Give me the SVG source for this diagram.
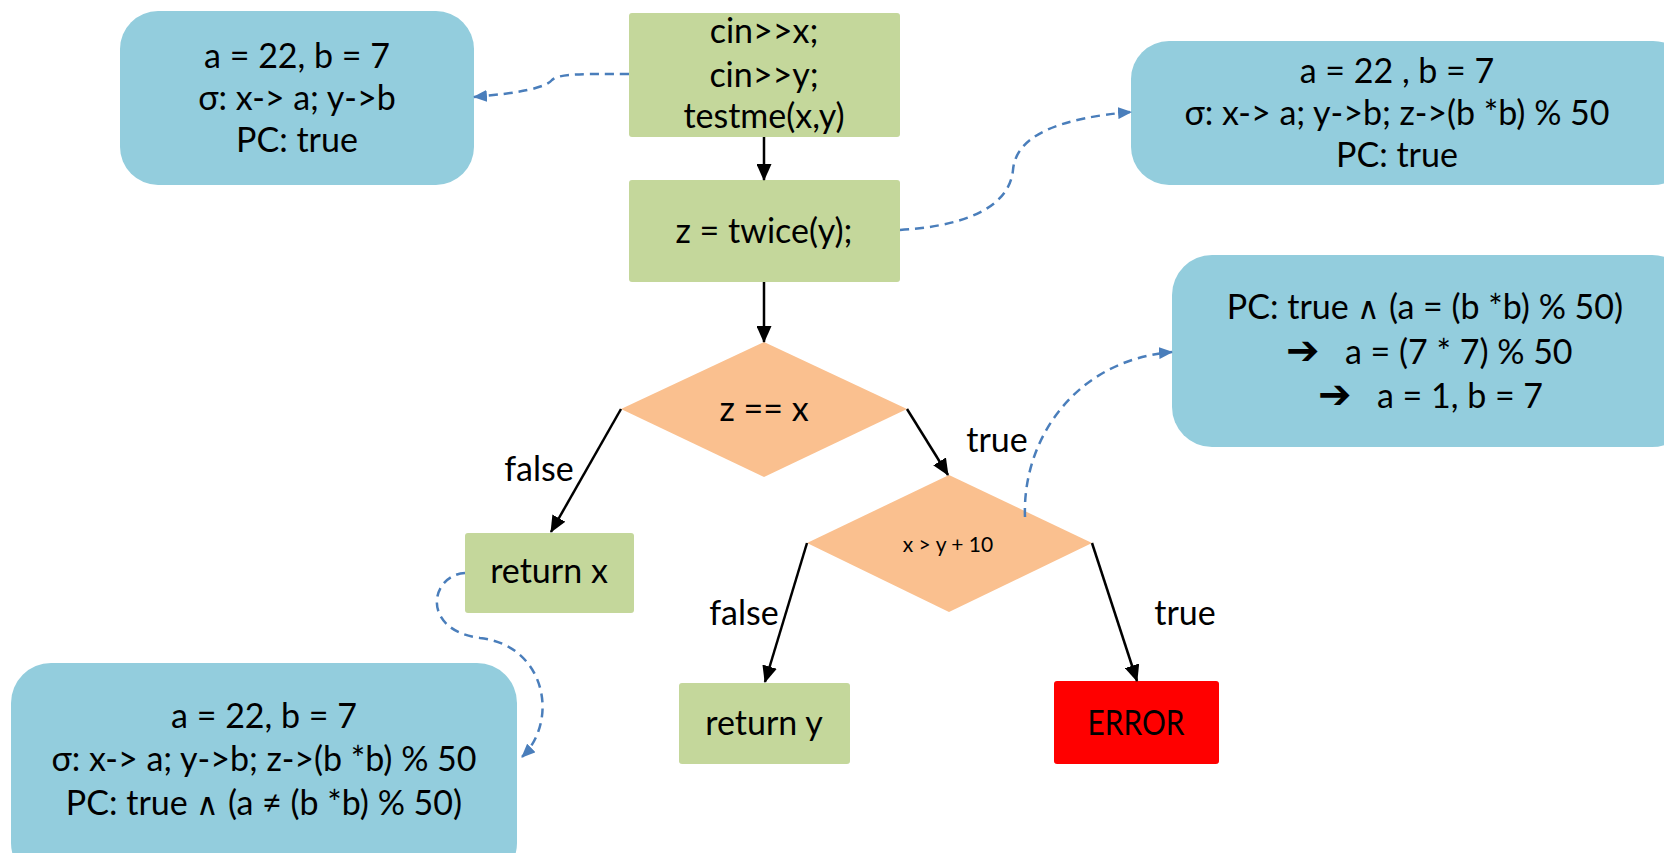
<svg xmlns="http://www.w3.org/2000/svg" width="1664" height="853" viewBox="0 0 1664 853">
  <style>
    .state { fill: #93CDDD; }
    .stmt { fill: #C4D79B; }
    .cond { fill: #FAC08F; }
    .err { fill: #FF0000; }
    text { font-family: Lato, "DejaVu Sans", sans-serif; font-size: 34px; fill: #000; text-anchor: middle; }
    .small { font-size: 21px; }
    .sym { font-family: "DejaVu Sans", sans-serif; font-weight: bold; font-size: 40px; }
    .op { font-family: "DejaVu Sans", sans-serif; font-weight: 200; font-size: 31px; }
    .flow { fill: none; stroke: #000; stroke-width: 2.5; marker-end: url(#blackHead); }
    .note { fill: none; stroke: #4A7EBB; stroke-width: 2.5; stroke-dasharray: 9 6; marker-end: url(#blueHead); }
  </style>
  <defs>
    <marker id="blackHead" viewBox="0 0 17 15" refX="16" refY="7.5" markerWidth="17" markerHeight="15" markerUnits="userSpaceOnUse" orient="auto">
      <path d="M0,0 L17,7.5 L0,15 Z" fill="#000"/>
    </marker>
    <marker id="blueHead" viewBox="0 0 14 12" refX="13" refY="6" markerWidth="14" markerHeight="12" markerUnits="userSpaceOnUse" orient="auto">
      <path d="M0,0 L14,6 L0,12 Z" fill="#4A7EBB"/>
    </marker>
  </defs>

  <!-- symbolic states -->
  <g id="state-initial">
    <rect class="state" x="120" y="11" width="354" height="174" rx="38"/>
    <text x="297" y="68">a = 22, b = 7</text>
    <text x="297" y="110">σ: x-&gt; a; y-&gt;b</text>
    <text x="297" y="152">PC: true</text>
  </g>
  <g id="state-after-twice">
    <rect class="state" x="1131" y="41" width="560" height="144" rx="38"/>
    <text x="1397" y="83">a = 22 , b = 7</text>
    <text x="1397" y="125">σ: x-&gt; a; y-&gt;b; z-&gt;(b *b) % 50</text>
    <text x="1397" y="167">PC: true</text>
  </g>
  <g id="state-true-branch">
    <rect class="state" x="1172" y="255" width="520" height="192" rx="40"/>
    <text x="1425" y="319">PC: true <tspan class="op">∧</tspan> (a = (b *b) % 50)</text>
    <text x="1286" y="364" style="text-anchor:start"><tspan class="sym">➔</tspan><tspan x="1345">a = (7 * 7) % 50</tspan></text>
    <text x="1318" y="408" style="text-anchor:start"><tspan class="sym">➔</tspan><tspan x="1377">a = 1, b = 7</tspan></text>
  </g>
  <g id="state-false-branch">
    <rect class="state" x="11" y="663" width="506" height="220" rx="40"/>
    <text x="264" y="728">a = 22, b = 7</text>
    <text x="264" y="771">σ: x-&gt; a; y-&gt;b; z-&gt;(b *b) % 50</text>
    <text x="264" y="815">PC: true <tspan class="op">∧</tspan> (a ≠ (b *b) % 50)</text>
  </g>

  <!-- program statements -->
  <g id="input">
    <rect class="stmt" x="629" y="13" width="271" height="124" rx="3"/>
    <text x="764" y="43">cin&gt;&gt;x;</text>
    <text x="764" y="87">cin&gt;&gt;y;</text>
    <text x="764" y="128">testme(x,y)</text>
  </g>
  <g id="twice">
    <rect class="stmt" x="629" y="180" width="271" height="102" rx="3"/>
    <text x="764" y="243">z = twice(y);</text>
  </g>
  <g id="cond-eq">
    <polygon class="cond" points="764,342 907,409 764,477 621,409"/>
    <text x="764" y="421">z == x</text>
  </g>
  <g id="cond-gt">
    <polygon class="cond" points="949,475 1092,543 949,612 807,543"/>
    <text class="small" x="948" y="552">x &gt; y + 10</text>
  </g>
  <g id="return-x">
    <rect class="stmt" x="465" y="533" width="169" height="80" rx="3"/>
    <text x="549" y="583">return x</text>
  </g>
  <g id="return-y">
    <rect class="stmt" x="679" y="683" width="171" height="81" rx="3"/>
    <text x="764" y="735">return y</text>
  </g>
  <g id="error">
    <rect class="err" x="1054" y="681" width="165" height="83" rx="3"/>
    <text x="1136" y="735" textLength="97" lengthAdjust="spacingAndGlyphs">ERROR</text>
  </g>

  <!-- connectors -->
  <g id="connectors">
    <line class="flow" x1="764" y1="137" x2="764" y2="180"/>
    <line class="flow" x1="764" y1="282" x2="764" y2="342"/>
    <line class="flow" x1="621" y1="409" x2="551" y2="532"/>
    <line class="flow" x1="907" y1="409" x2="948" y2="475"/>
    <line class="flow" x1="807" y1="543" x2="765" y2="682"/>
    <line class="flow" x1="1092" y1="543" x2="1137" y2="681"/>

    <path class="note" d="M629,74 C585,74 560,73 552,80 C545,88 520,93 474,97"/>
    <path class="note" d="M900,230 C980,225 1010,200 1013,170 C1016,135 1060,118 1131,112"/>
    <path class="note" d="M1025,517 C1022,440 1075,360 1172,352"/>
    <path class="note" d="M465,573 C430,575 420,630 480,638 C545,645 560,720 522,757"/>

    <text x="539" y="481">false</text>
    <text x="997" y="452">true</text>
    <text x="744" y="625">false</text>
    <text x="1185" y="625">true</text>
  </g>
</svg>
